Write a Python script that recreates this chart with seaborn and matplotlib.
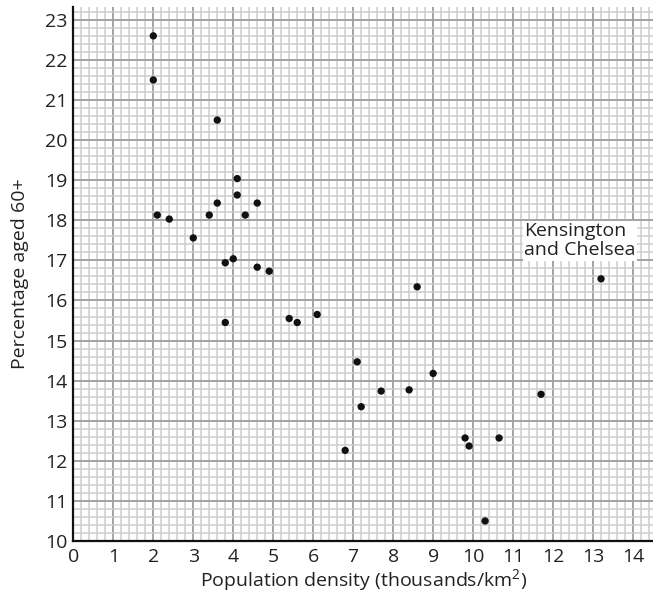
import matplotlib
matplotlib.use("Agg")
import matplotlib.pyplot as plt
from matplotlib.ticker import MultipleLocator
import seaborn as sns
import pandas as pd

# Population density (thousands per km²) for each borough
density = [2.0, 2.0, 3.6, 2.1, 2.4, 3.0, 3.4, 3.6, 4.1, 4.1, 4.3,
           4.6, 3.8, 4.0, 4.6, 4.9, 3.8, 5.4, 5.6, 6.1, 7.1, 7.2,
           7.7, 8.4, 9.0, 8.6, 6.8, 9.8, 9.9, 10.65, 10.3, 11.7, 13.2]
# Percentage of residents aged 60 and over
aged60 = [22.6, 21.5, 20.5, 18.13, 18.03, 17.56, 18.13, 18.43, 19.04, 18.63, 18.13,
          18.43, 16.94, 17.04, 16.83, 16.73, 15.45, 15.55, 15.45, 15.65, 14.47, 13.35,
          13.74, 13.77, 14.18, 16.34, 12.26, 12.57, 12.37, 12.57, 10.5, 13.66, 16.54]

x_ticks = list(range(0, 15))
y_ticks = list(range(10, 24))

df = pd.DataFrame({"density": density, "aged60": aged60})

sns.set_style("white")
plt.rcParams["font.family"] = ["Open Sans", "DejaVu Sans"]
plt.rcParams["mathtext.fontset"] = "custom"
plt.rcParams["mathtext.rm"] = "Open Sans"

fig = plt.figure(figsize=(6.53, 5.98), dpi=100)
ax = fig.add_axes([0.1123, 0.0953, 0.8877, 0.893])

# graph-paper grid: fine 0.2 squares, heavier unit lines
ax.xaxis.set_minor_locator(MultipleLocator(0.2))
ax.yaxis.set_minor_locator(MultipleLocator(0.2))
ax.grid(which="minor", color="#cdcdcd", linewidth=1.1, zorder=0)
ax.grid(which="major", color="#a3a3a3", linewidth=1.4, zorder=0)
ax.set_axisbelow(True)

sns.scatterplot(data=df, x="density", y="aged60", ax=ax, color="#111111",
                s=28, edgecolor="none", zorder=3)

ax.set_xlim(0, 14.5)
ax.set_ylim(10, 23.32)
ax.set_xticks(x_ticks)
ax.set_yticks(y_ticks)
ax.tick_params(which="both", length=0, labelsize=14, colors="#222222")
ax.tick_params(axis="x", pad=5)
ax.tick_params(axis="y", pad=4)

for side in ("top", "right"):
    ax.spines[side].set_visible(False)
for side in ("left", "bottom"):
    ax.spines[side].set_color("#111111")
    ax.spines[side].set_linewidth(1.6)
    ax.spines[side].set_zorder(4)

ax.set_xlabel(r"Population density (thousands/km$^{\mathrm{2}}$)", fontsize=14,
              color="#222222", labelpad=1)
ax.set_ylabel("Percentage aged 60+", fontsize=14, color="#222222", labelpad=12)

ax.text(11.28, 17.96, "Kensington\nand Chelsea", fontsize=14, color="#222222",
        ha="left", va="top", linespacing=1.1, zorder=5,
        bbox=dict(facecolor="white", edgecolor="none", pad=1.0))

fig.savefig("out.png", dpi=100)
